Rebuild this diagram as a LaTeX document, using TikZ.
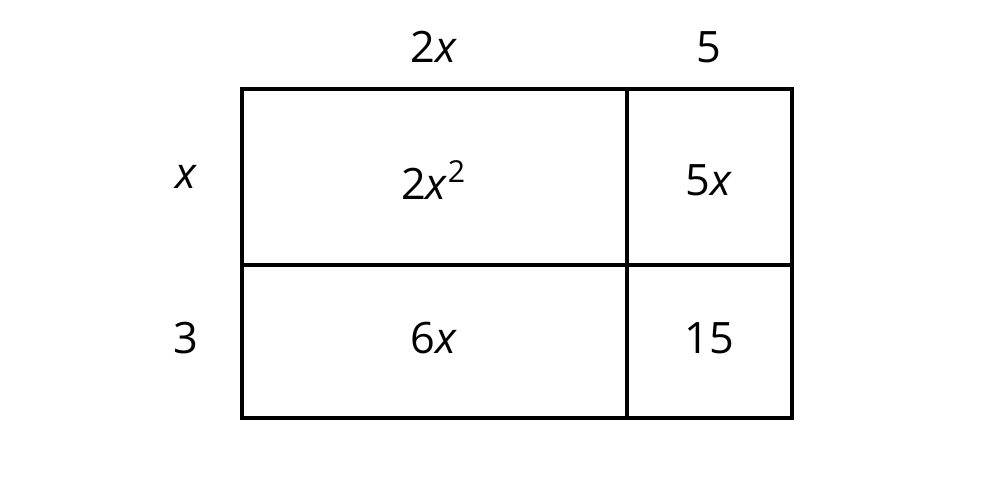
\documentclass[tikz,border=0pt]{standalone}
\usepackage{fontspec}
\setmainfont{Open Sans}
\usepackage{tikz}

\begin{document}
\begin{tikzpicture}[x=0.01cm,y=-0.01cm,line width=1pt,
    every node/.style={font=\fontsize{12.3}{15}\selectfont,inner sep=0pt}]
      \useasboundingbox (0,0) rectangle (1000,488);
      \coordinate (tl) at (242,89);
      \coordinate (br) at (792,418);
      \coordinate (mt) at (627,89);
      \coordinate (mb) at (627,418);
      \coordinate (ml) at (242,265);
      \coordinate (mr) at (792,265);
      \draw (tl) rectangle (br);
      \draw (mt) -- (mb);
      \draw (ml) -- (mr);
      % side lengths
      \node (top2x) at (434,47) {2\textit{x}};
      \node (top5) at (709,47) {5};
      \node (leftx) at (186,177) {\textit{x}};
      \node (left3) at (186,338) {3};
      % areas
      \node (sq) at (434,180) {2\textit{x}\raisebox{0.1ex}{\textsuperscript{2}}};
      \node (fivex) at (709,180) {5\textit{x}};
      \node (sixx) at (434,338) {6\textit{x}};
      \node (fifteen) at (709,338) {15};
    \end{tikzpicture}
\end{document}
